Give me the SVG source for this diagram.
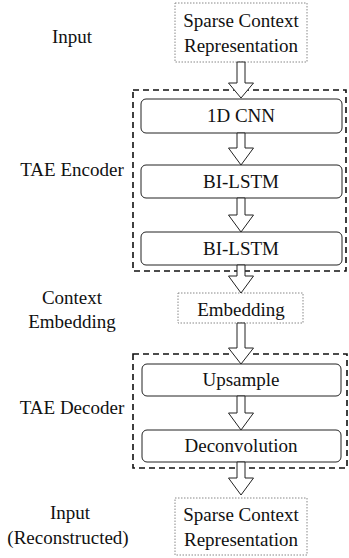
<svg xmlns="http://www.w3.org/2000/svg" width="349" height="558" viewBox="0 0 349 558">
<style>
text{font-family:"Liberation Serif","Times New Roman",serif;font-size:19px;fill:#111;text-anchor:middle}
.io{fill:#fff;stroke:#888;stroke-width:1;stroke-dasharray:1.5,1.5}
.grp{fill:none;stroke:#111;stroke-width:1.6;stroke-dasharray:6,4}
.blk{fill:#fff;stroke:#222;stroke-width:1}
.arr{fill:#fff;stroke:#222;stroke-width:1}
</style>
<rect width="349" height="558" fill="#fff"/>
<g id="labels">
<text x="72" y="43">Input</text>
<text x="72" y="176">TAE Encoder</text>
<text x="72" y="304">Context</text>
<text x="72" y="328">Embedding</text>
<text x="72" y="414">TAE Decoder</text>
<text x="70" y="519">Input</text>
<text x="68" y="544">(Reconstructed)</text>
</g>
<g id="encoder-group"><rect class="grp" x="133" y="90" width="213" height="181"/></g>
<g id="decoder-group"><rect class="grp" x="133" y="354" width="214" height="114"/></g>
<g id="input"><rect class="io" x="175" y="3" width="132" height="59"/><text x="241" y="27">Sparse Context</text><text x="241" y="52">Representation</text></g>
<g id="cnn"><rect class="blk" x="141" y="99" width="201" height="34" rx="5"/><text x="241" y="122">1D CNN</text></g>
<g id="lstm1"><rect class="blk" x="141" y="165" width="201" height="33" rx="5"/><text x="241" y="188">BI-LSTM</text></g>
<g id="lstm2"><rect class="blk" x="141" y="232" width="201" height="33" rx="5"/><text x="241" y="255">BI-LSTM</text></g>
<g id="embedding"><rect class="io" x="178" y="293" width="125" height="30"/><text x="241" y="316">Embedding</text></g>
<g id="upsample"><rect class="blk" x="142" y="364" width="199" height="32" rx="5"/><text x="241" y="386">Upsample</text></g>
<g id="deconv"><rect class="blk" x="142" y="430" width="199" height="32" rx="5"/><text x="241" y="452">Deconvolution</text></g>
<g id="output"><rect class="io" x="175" y="498" width="132" height="57"/><text x="241" y="521">Sparse Context</text><text x="241" y="546">Representation</text></g>
<g id="connectors">
<polygon class="arr" points="237,62 245,62 245,83 253.5,83 241,98 228.5,83 237,83"/>
<polygon class="arr" points="237,133 245,133 245,148 253.5,148 241,165 228.5,148 237,148"/>
<polygon class="arr" points="237,198 245,198 245,215 253.5,215 241,232 228.5,215 237,215"/>
<polygon class="arr" points="237,265 245,265 245,276 253.5,276 241,293 228.5,276 237,276"/>
<polygon class="arr" points="237,323 245,323 245,348 253.5,348 241,364 228.5,348 237,348"/>
<polygon class="arr" points="237,396 245,396 245,413 253.5,413 241,430 228.5,413 237,413"/>
<polygon class="arr" points="237,462 245,462 245,478 253.5,478 241,495 228.5,478 237,478"/>
</g>
</svg>
